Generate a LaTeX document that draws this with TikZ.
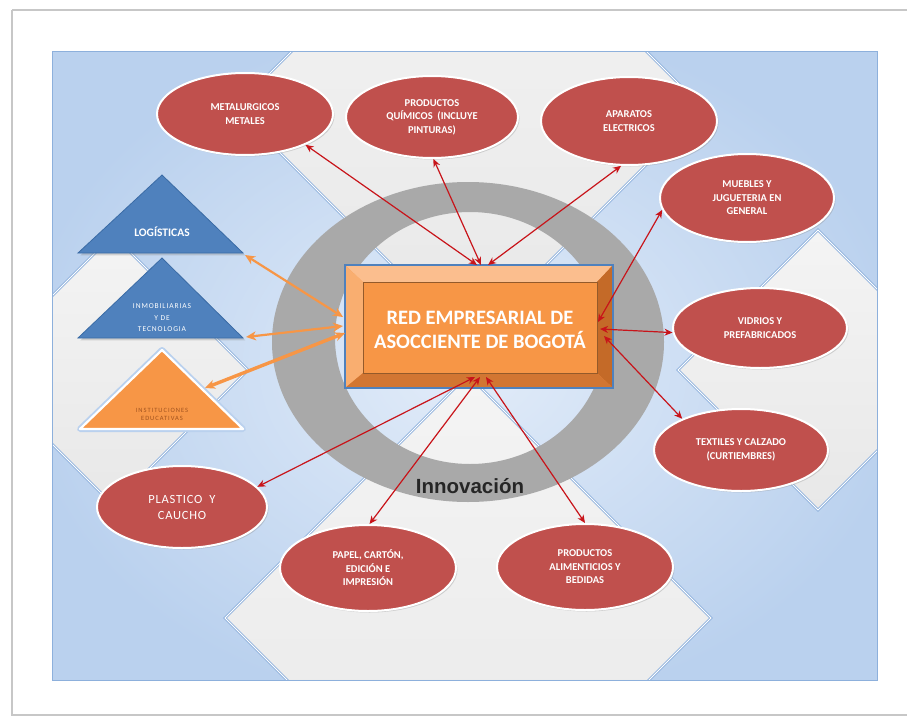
\documentclass[tikz,border=0pt]{standalone}
\usepackage{fontspec}
\setmainfont{Carlito}
\newfontfamily\innfont{Liberation Sans}
\usetikzlibrary{arrows.meta,shapes.geometric,shadows,calc}

\definecolor{ellred}{HTML}{C0504D}
\definecolor{arrred}{HTML}{C8141A}
\definecolor{orng}{HTML}{F79646}
\definecolor{tblue}{HTML}{4F81BD}
\definecolor{tblueD}{HTML}{3A6BA5}
\definecolor{bgblueA}{HTML}{BAD1EE}
\definecolor{bgblueB}{HTML}{E2ECF9}
\definecolor{graylo}{HTML}{E8E8E8}
\definecolor{grayhi}{HTML}{F4F4F4}
\definecolor{edgeblue}{HTML}{8DB0DC}
\definecolor{ringgray}{HTML}{A9A9A9}
\definecolor{facetT}{HTML}{FBBE8E}
\definecolor{facetL}{HTML}{F9AE70}
\definecolor{facetR}{HTML}{C46A28}
\definecolor{facetB}{HTML}{D27632}
\definecolor{innertxt}{HTML}{262626}
\definecolor{ortxt}{HTML}{A0521E}

\tikzset{
  ell/.style={ellipse, fill=ellred, draw=white, line width=2pt, inner sep=0pt,
    text=white, font=\bfseries\fontsize{10.5}{13.5}\selectfont, align=center,
    drop shadow={opacity=0.3, shadow xshift=1.5pt, shadow yshift=-1.5pt}},
  redarr/.style={draw=arrred, line width=1.2pt,
    {Stealth[length=8pt,width=7pt,inset=2.5pt]}-{Stealth[length=8pt,width=7pt,inset=2.5pt]}},
  orarr/.style={draw=orng, line width=2.2pt,
    {Stealth[length=10pt,width=9pt,inset=3pt]}-{Stealth[length=10pt,width=9pt,inset=3pt]}},
  graydiam/.style={top color=grayhi, bottom color=graylo, draw=edgeblue,
    line width=0.9pt, double=white, double distance=0.9pt},
  tritext/.style={text=white, align=center, inner sep=0pt},
}

\begin{document}
\begin{tikzpicture}[x=1pt,y=-1pt]
\useasboundingbox (0,0) rectangle (907,717);
\fill[white] (0,0) rectangle (907,717);
\draw[black!22, line width=1.2pt] (12,10) -- (912,10) (12,10) -- (12,715) -- (912,715);

% ---------- background picture ----------
\begin{scope}
  \clip (52,52) rectangle (877,680);
  \shade[inner color=bgblueB, outer color=bgblueA] (20,20) rectangle (909,712);
  % four gray diamonds between the blue corner arrows
  \path[graydiam] (469,-126) -- (703,108) -- (469,342) -- (235,108) -- cycle;
  \path[graydiam] (468,375) -- (711,618) -- (468,861) -- (225,618) -- cycle;
  \path[graydiam] (818,230) -- (958,370) -- (818,510) -- (678,370) -- cycle;
  \path[graydiam] (113,235) -- (248,370) -- (113,505) -- (-22,370) -- cycle;
\end{scope}
\draw[edgeblue, line width=1pt] (52,52) rectangle (877,680);

% ---------- ring ----------
\fill[ringgray, even odd rule] (468,342) ellipse [x radius=196pt, y radius=160pt]
  (470,338) ellipse [x radius=135pt, y radius=126pt];
\node[font=\innfont\bfseries\fontsize{20.5}{24}\selectfont, text=innertxt] (innov) at (470,486) {Innovación};

% ---------- triangles ----------
\path[fill=tblue, draw=tblueD, line width=0.8pt, drop shadow={opacity=0.3}] (78,253) -- (162,175) -- (243,253) -- cycle;
\node[tritext, font=\bfseries\fontsize{11.5}{13}\selectfont] (logis) at (162,232) {LOGÍSTICAS};
\coordinate (logc) at (245,255);

\path[fill=tblue, draw=tblueD, line width=0.8pt, drop shadow={opacity=0.3}] (78,338) -- (162,258) -- (243,338) -- cycle;
\node[tritext, font=\fontsize{7.5}{11.5}\selectfont\addfontfeature{LetterSpace=12}] (inmob) at (162,318) {INMOBILIARIAS\\Y DE\\TECNOLOGIA};
\coordinate (inmc) at (246,337);

\draw[draw=bgblueA, line width=6pt, line join=round] (80,429) -- (162,350) -- (243,429) -- cycle;
\path[fill=orng, draw=white, line width=2.2pt, line join=round] (80,429) -- (162,350) -- (243,429) -- cycle;
\node[tritext, text=ortxt, font=\fontsize{6.5}{8}\selectfont\addfontfeature{LetterSpace=15}] (inst) at (162,414) {INSTITUCIONES\\EDUCATIVAS};
\coordinate (orc) at (205,388);

% ---------- central box ----------
\node[minimum width=268pt, minimum height=123pt, inner sep=0pt] (box) at (479,326.5) {};
\fill[orng] (345,265) rectangle (613,388);
\fill[facetT] (345,265) -- (613,265) -- (597,282) -- (363,282) -- cycle;
\fill[facetL] (345,265) -- (363,282) -- (363,373) -- (345,388) -- cycle;
\fill[facetR] (613,265) -- (613,388) -- (597,373) -- (597,282) -- cycle;
\fill[facetB] (345,388) -- (613,388) -- (597,373) -- (363,373) -- cycle;
\draw[orng!60!black, line width=0.4pt] (363,282) rectangle (597,373);
\draw[tblue, line width=1.2pt] (345,265) rectangle (613,388);
\node[text=white, font=\bfseries\fontsize{20.5}{24}\selectfont, align=center] (boxtext) at (480,330)
  {RED EMPRESARIAL DE\\ASOCCIENTE DE BOGOTÁ};

% anchor points on the box
\coordinate (bt1) at (477,265);
\coordinate (bt2) at (481,265);
\coordinate (bt3) at (488,265);
\coordinate (br1) at (598,322);
\coordinate (br2) at (600,329);
\coordinate (br3) at (604,336);
\coordinate (bb1) at (475,377);
\coordinate (bb2) at (480,377);
\coordinate (bb3) at (486,377);
\coordinate (bl1) at (343,317);
\coordinate (bl2) at (343,326);
\coordinate (bl3) at (345,333);

% ---------- ellipses ----------
\node[ell, minimum width=176pt, minimum height=82pt] (metal) at (245,114) {METALURGICOS\\METALES};
\node[ell, minimum width=172pt, minimum height=82pt] (quim) at (432,117) {PRODUCTOS\\QUÍMICOS \ (INCLUYE\\PINTURAS)};
\node[ell, minimum width=176pt, minimum height=88pt] (apar) at (629,121) {APARATOS\\ELECTRICOS};
\node[ell, minimum width=174pt, minimum height=88pt] (mueb) at (747,198) {MUEBLES Y\\JUGUETERIA EN\\GENERAL};
\node[ell, minimum width=174pt, minimum height=80pt] (vidr) at (760,328) {VIDRIOS Y\\PREFABRICADOS};
\node[ell, minimum width=174pt, minimum height=82pt] (texti) at (741,450) {TEXTILES Y CALZADO\\(CURTIEMBRES)};
\node[ell, minimum width=170pt, minimum height=82pt, font=\fontsize{12.5}{16}\selectfont\addfontfeature{LetterSpace=6}] (plast) at (182,507) {PLASTICO \ Y\\CAUCHO};
\node[ell, minimum width=176pt, minimum height=86pt] (papel) at (368,568) {PAPEL, CARTÓN,\\EDICIÓN E\\IMPRESIÓN};
\node[ell, minimum width=176pt, minimum height=86pt] (alim) at (585,567) {PRODUCTOS\\ALIMENTICIOS Y\\BEDIDAS};

% ---------- connectors ----------
\draw[orarr] (logc) -- (bl1);
\draw[orarr] (inmc) -- (bl2);
\draw[orarr, line width=3.4pt] (orc) -- (bl3);

\draw[redarr] (bt1) -- (metal.-27);
\draw[redarr] (bt2) -- (quim.-88);
\draw[redarr] (bt3) -- (apar.-100);
\draw[redarr] (br1) -- (mueb.-172);
\draw[redarr] (br2) -- (vidr.-177);
\draw[redarr] (br3) -- (texti.152);
\draw[redarr] (bb1) -- (plast.15);
\draw[redarr] (bb2) -- (papel.88);
\draw[redarr] (bb3) -- (alim.90);
\end{tikzpicture}
\end{document}
